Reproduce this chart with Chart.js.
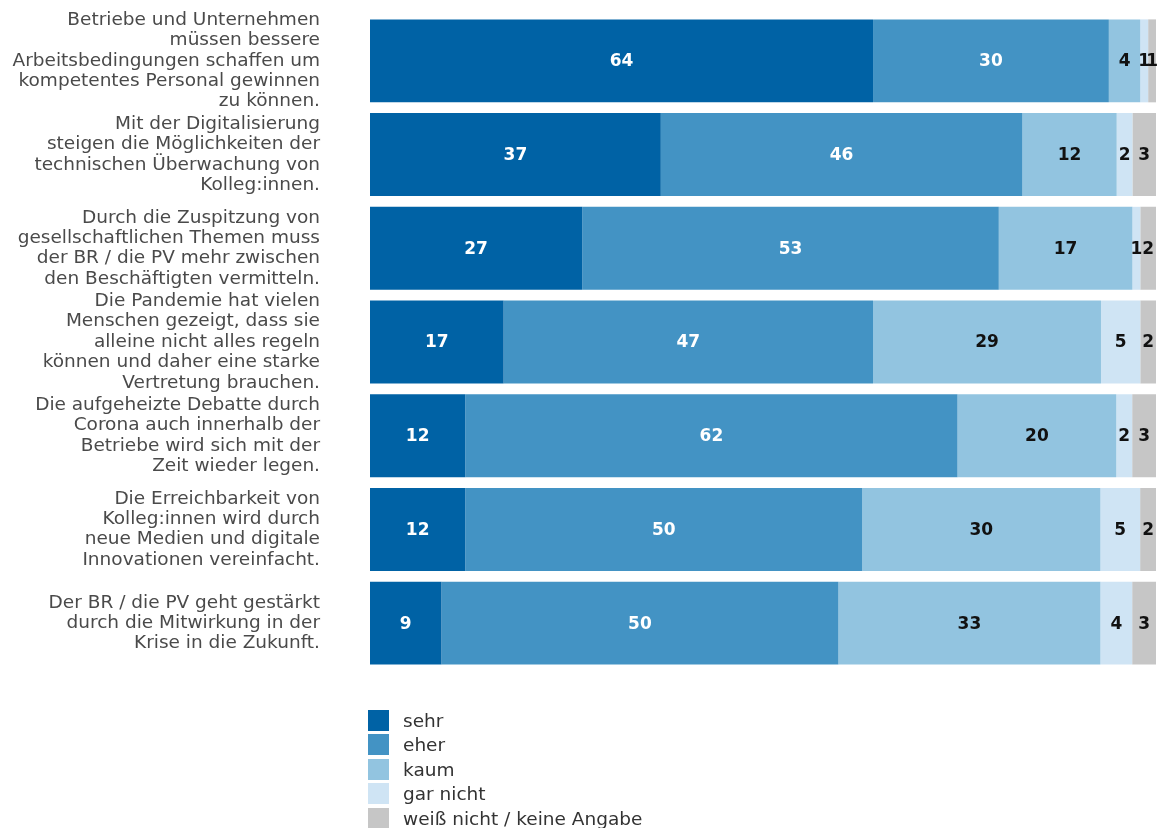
<!DOCTYPE html>
<html>
<head>
<meta charset="utf-8">
<script src="https://cdn.jsdelivr.net/npm/chart.js@4.4.1/dist/chart.umd.min.js"></script>
<style>
    html, body { margin: 0; padding: 0; background: #fff; }
    #wrap { position: relative; width: 1157px; height: 828px; }
    #legend { position: absolute; left: 368px; top: 708px; font-family: "DejaVu Sans", sans-serif; font-size: 18.5px; color: #333; }
    #legend div { height: 24.5px; display: flex; align-items: center; }
    #legend span.box { display: inline-block; width: 21px; height: 21px; margin-right: 14px; }
</style>
</head>
<body>
<div id="wrap">
    <canvas id="surveyChart" width="1157" height="828"></canvas>
    <div id="legend"></div>
</div>
<script>
const statements = [
    ['Betriebe und Unternehmen', 'müssen bessere', 'Arbeitsbedingungen schaffen um', 'kompetentes Personal gewinnen', 'zu können.'],
    ['Mit der Digitalisierung', 'steigen die Möglichkeiten der', 'technischen Überwachung von', 'Kolleg:innen.'],
    ['Durch die Zuspitzung von', 'gesellschaftlichen Themen muss', 'der BR / die PV mehr zwischen', 'den Beschäftigten vermitteln.'],
    ['Die Pandemie hat vielen', 'Menschen gezeigt, dass sie', 'alleine nicht alles regeln', 'können und daher eine starke', 'Vertretung brauchen.'],
    ['Die aufgeheizte Debatte durch', 'Corona auch innerhalb der', 'Betriebe wird sich mit der', 'Zeit wieder legen.'],
    ['Die Erreichbarkeit von', 'Kolleg:innen wird durch', 'neue Medien und digitale', 'Innovationen vereinfacht.'],
    ['Der BR / die PV geht gestärkt', 'durch die Mitwirkung in der', 'Krise in die Zukunft.']
];

const answers = ['sehr', 'eher', 'kaum', 'gar nicht', 'weiß nicht / keine Angabe'];

const sehr = [64, 37, 27, 17, 12, 12, 9];
const eher = [30, 46, 53, 47, 62, 50, 50];
const kaum = [4, 12, 17, 29, 20, 30, 33];
const garNicht = [1, 2, 1, 5, 2, 5, 4];
const weissNicht = [1, 3, 2, 2, 3, 2, 3];

const colors = ['#0062a5', '#4393c4', '#92c4e0', '#cfe4f4', '#c6c6c6'];
const labelColors = ['#ffffff', '#ffffff', '#111111', '#111111', '#111111'];

const series = [sehr, eher, kaum, garNicht, weissNicht];

// bars are stretched to the full row (rounded values don't always add up to 100)
const rowTotals = statements.map((_, i) => series.reduce((s, arr) => s + arr[i], 0));

const valueLabels = {
    id: 'valueLabels',
    afterDatasetsDraw(chart) {
        const ctx = chart.ctx;
        ctx.save();
        ctx.font = 'bold 17px "DejaVu Sans"';
        ctx.textAlign = 'center';
        ctx.textBaseline = 'middle';
        chart.data.datasets.forEach((ds, di) => {
            const meta = chart.getDatasetMeta(di);
            meta.data.forEach((bar, i) => {
                const x = (bar.x + bar.base) / 2;
                ctx.fillStyle = labelColors[di];
                ctx.fillText(String(series[di][i]), x, bar.y + 1);
            });
        });
        ctx.restore();
    }
};

const chart = new Chart(document.getElementById('surveyChart'), {
    type: 'bar',
    data: {
        labels: statements,
        datasets: answers.map((name, di) => ({
            label: name,
            data: series[di].map((v, i) => v / rowTotals[i] * 100),
            backgroundColor: colors[di],
            borderWidth: 0,
            categoryPercentage: 1,
            barPercentage: 0.885
        }))
    },
    options: {
        indexAxis: 'y',
        responsive: false,
        animation: false,
        layout: {
            padding: { top: 14, bottom: 158, right: 1 }
        },
        plugins: {
            legend: { display: false },
            tooltip: { enabled: false }
        },
        scales: {
            x: {
                stacked: true,
                min: 0,
                max: 100,
                display: false
            },
            y: {
                stacked: true,
                grid: { display: false },
                border: { display: false },
                afterFit: (scale) => {
                    scale.width = 370;
                    scale.paddingTop = 0;
                    scale.paddingBottom = 0;
                },
                ticks: {
                    autoSkip: false,
                    padding: 42,
                    color: '#4a4a4a',
                    font: { family: '"DejaVu Sans"', size: 18.5, lineHeight: 1.1 }
                }
            }
        }
    },
    plugins: [valueLabels]
});

// legend as a vertical list below the bars
const legendEl = document.getElementById('legend');
chart.data.datasets.forEach(ds => {
    const row = document.createElement('div');
    const box = document.createElement('span');
    box.className = 'box';
    box.style.background = ds.backgroundColor;
    row.appendChild(box);
    row.appendChild(document.createTextNode(ds.label));
    legendEl.appendChild(row);
});
</script>
</body>
</html>
